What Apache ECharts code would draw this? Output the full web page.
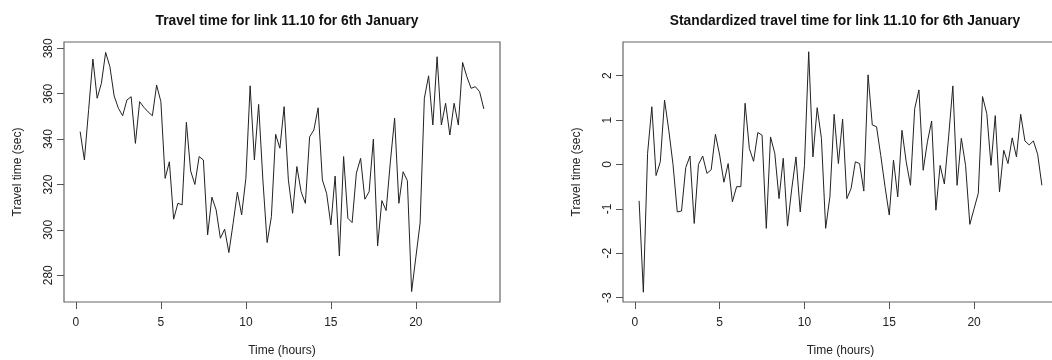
<!DOCTYPE html>
<html>
<head>
<meta charset="utf-8">
<script src="https://cdn.jsdelivr.net/npm/echarts@6.0.0/dist/echarts.min.js"></script>
<style>
  html, body { margin: 0; padding: 0; background: #fff; overflow: hidden; }
  #chart { width: 1052px; height: 360px; }
</style>
</head>
<body>
<div id="chart"></div>
<script>
// time of day (hours), one reading every 15 minutes
const hours = [
  0.25, 0.5, 0.75, 1, 1.25, 1.5, 1.75, 2, 2.25, 2.5, 2.75, 3,
  3.25, 3.5, 3.75, 4, 4.25, 4.5, 4.75, 5, 5.25, 5.5, 5.75, 6,
  6.25, 6.5, 6.75, 7, 7.25, 7.5, 7.75, 8, 8.25, 8.5, 8.75, 9,
  9.25, 9.5, 9.75, 10, 10.25, 10.5, 10.75, 11, 11.25, 11.5, 11.75, 12,
  12.25, 12.5, 12.75, 13, 13.25, 13.5, 13.75, 14, 14.25, 14.5, 14.75, 15,
  15.25, 15.5, 15.75, 16, 16.25, 16.5, 16.75, 17, 17.25, 17.5, 17.75, 18,
  18.25, 18.5, 18.75, 19, 19.25, 19.5, 19.75, 20, 20.25, 20.5, 20.75, 21,
  21.25, 21.5, 21.75, 22, 22.25, 22.5, 22.75, 23, 23.25, 23.5, 23.75, 24
];

// travel time (sec)
const travelTime = [
  343.3, 330.8, 353, 375.3, 358, 364.6, 378.2, 371.9, 359, 353.6, 350.3, 357.2,
  358.7, 338.1, 356.5, 354, 352, 350.3, 363.8, 356.5, 322.7, 330, 304.7, 311.7,
  311, 347.4, 326, 320, 332.3, 330.8, 297.8, 314.4, 308.8, 296.3, 300.3, 290,
  302.9, 316.6, 306.6, 322.7, 363.5, 330.8, 355.3, 322, 294.4, 305.8, 342.1, 336,
  354.3, 322, 307.3, 327.9, 316.8, 311.7, 341, 344, 353.8, 322, 316.1, 302.2,
  323.7, 288.5, 332.3, 305.1, 303.2, 325, 331.5, 313.5, 316.8, 340, 292.9, 312.9,
  308.5, 330, 349.2, 311.7, 325.6, 321.7, 272.8, 288, 303, 358, 367.9, 346.2,
  376.3, 346.2, 355.8, 341.8, 355.8, 346.2, 373.8, 367.5, 362.4, 363.1, 360.9, 353.3
];

// standardized travel time
const standardized = [
  -0.82, -2.88, 0.25, 1.30, -0.25, 0.06, 1.45, 0.77, 0.0, -1.07, -1.05, -0.07,
  0.19, -1.33, 0.0, 0.19, -0.2, -0.12, 0.68, 0.21, -0.4, 0.02, -0.84, -0.5,
  -0.5, 1.38, 0.36, 0.07, 0.72, 0.66, -1.44, 0.62, 0.25, -0.77, 0.14, -1.39,
  -0.55, 0.17, -1.07, -0.02, 2.54, 0.17, 1.28, 0.59, -1.44, -0.73, 1.13, 0.02,
  1.02, -0.77, -0.54, 0.06, 0.02, -0.6, 2.02, 0.89, 0.85, 0.2, -0.5, -1.14,
  0.1, -0.73, 0.77, 0.06, -0.47, 1.26, 1.68, -0.13, 0.51, 0.98, -1.03, -0.02,
  -0.44, 0.62, 1.77, -0.47, 0.59, -0.02, -1.35, -1.0, -0.65, 1.53, 1.15, -0.02,
  1.1, -0.62, 0.32, 0.02, 0.6, 0.17, 1.13, 0.53, 0.44, 0.53, 0.23, -0.47
];

const xTicks = [0, 5, 10, 15, 20];
const leftYTicks = [280, 300, 320, 340, 360, 380];
const rightYTicks = [-3, -2, -1, 0, 1, 2];

const FONT = 'Liberation Sans, Arial, sans-serif';
const chart = echarts.init(document.getElementById('chart'));

const tickLabel = { color: '#222', fontSize: 12, fontFamily: FONT };

function xAxis(gridIndex) {
  return {
    type: 'value', gridIndex,
    min: -0.7, max: 24.95,
    name: 'Time (hours)', nameLocation: 'middle', nameGap: 43,
    nameTextStyle: { color: '#222', fontSize: 12, fontFamily: FONT },
    axisLine: { show: false, onZero: false },
    axisTick: { show: true, inside: false, length: 7, customValues: xTicks, lineStyle: { color: '#555' } },
    axisLabel: Object.assign({ customValues: xTicks, margin: 15 }, tickLabel),
    splitLine: { show: false }
  };
}

function yAxis(gridIndex, min, max, ticks) {
  return {
    type: 'value', gridIndex, min, max,
    name: 'Travel time (sec)', nameLocation: 'middle', nameGap: 40,
    nameTextStyle: { color: '#222', fontSize: 12, fontFamily: FONT },
    axisLine: { show: false, onZero: false },
    axisTick: { show: true, inside: false, length: 7, customValues: ticks, lineStyle: { color: '#555' } },
    axisLabel: Object.assign({ customValues: ticks, rotate: 90, margin: 9 }, tickLabel),
    splitLine: { show: false }
  };
}

const titleStyle = { fontSize: 13.8, fontWeight: 'bold', color: '#111', fontFamily: FONT };

const gridBase = {
  top: 42, height: 260, show: true,
  borderColor: '#666', borderWidth: 1.2, backgroundColor: 'transparent',
  containLabel: false, outerBoundsMode: 'none'
};

const option = {
  animation: false,
  backgroundColor: '#fff',
  title: [
    { text: 'Travel time for link 11.10 for 6th January', left: 282, top: 9, textAlign: 'center', textStyle: titleStyle },
    { text: 'Standardized travel time for link 11.10 for 6th January', left: 840, top: 9, textAlign: 'center', textStyle: titleStyle }
  ],
  grid: [
    Object.assign({ left: 64, width: 436 }, gridBase),
    // the right panel runs past the edge of the picture, as in the original
    Object.assign({ left: 623, width: 435 }, gridBase)
  ],
  xAxis: [xAxis(0), xAxis(1)],
  yAxis: [
    yAxis(0, 268.2, 382.8, leftYTicks),
    yAxis(1, -3.1, 2.76, rightYTicks)
  ],
  series: [
    {
      type: 'line', xAxisIndex: 0, yAxisIndex: 0,
      data: hours.map((h, i) => [h, travelTime[i]]),
      symbol: 'none', lineStyle: { color: '#222', width: 1 }
    },
    {
      type: 'line', xAxisIndex: 1, yAxisIndex: 1,
      data: hours.map((h, i) => [h, standardized[i]]),
      symbol: 'none', lineStyle: { color: '#222', width: 1 }
    }
  ]
};

chart.setOption(option);
</script>
</body>
</html>
